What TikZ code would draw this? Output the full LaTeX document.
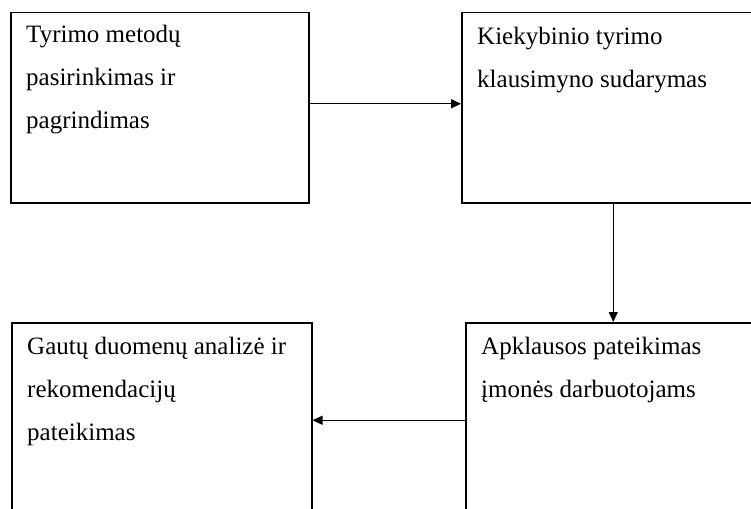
\documentclass[tikz,border=0pt]{standalone}
\usepackage{fontspec}
\setmainfont{Liberation Serif}
\usetikzlibrary{arrows.meta}
\tikzset{
  box/.style={draw, line width=1.5pt, anchor=north west, inner sep=0pt},
  txt/.style={anchor=north west, align=left, inner sep=0pt, font=\fontsize{25}{43}\selectfont},
  link/.style={line width=1.3pt, -{Triangle[length=10pt,width=9pt]}}
}
\begin{document}
\begin{tikzpicture}[x=1pt,y=-1pt]
  \useasboundingbox (0,0) rectangle (751,508);
  \node[box, minimum width=298, minimum height=190] (a) at (10,12) {};
  \node[box, minimum width=295, minimum height=190] (b) at (461,12) {};
  \node[box, minimum width=300, minimum height=195] (c) at (11,322) {};
  \node[box, minimum width=292, minimum height=195] (d) at (465,322) {};
  \node[txt] (ta) at ([shift={(16,13)}]a.north west) {Tyrimo metodų\\pasirinkimas ir\\pagrindimas};
  \node[txt] (tb) at ([shift={(16,15)}]b.north west) {Kiekybinio tyrimo\\klausimyno sudarymas};
  \node[txt] (tc) at ([shift={(16,15)}]c.north west) {Gautų duomenų analizė ir\\rekomendacijų\\pateikimas};
  \node[txt] (td) at ([shift={(16,15)}]d.north west) {Apklausos pateikimas\\įmonės darbuotojams};
  \draw[link] ([yshift=4]a.east) -- ([yshift=4]a.east -| b.west);
  \draw[link] ([xshift=4]b.south) -- ([xshift=4]b.south |- d.north);
  \draw[link] (d.west) -- (d.west -| c.east);
\end{tikzpicture}
\end{document}
